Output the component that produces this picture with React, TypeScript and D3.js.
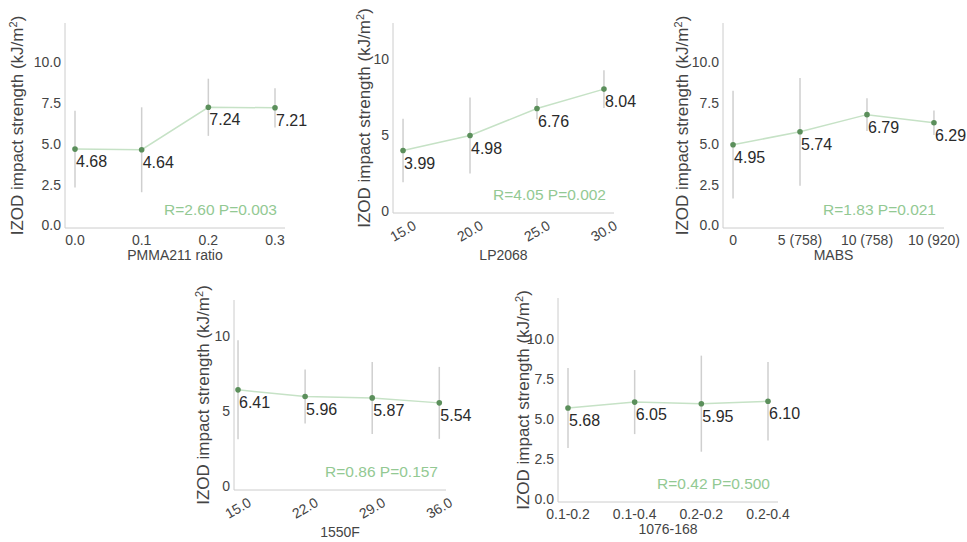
import React from 'react';
import * as d3 from 'd3';

// values
const pmmaCats = ['0.0', '0.1', '0.2', '0.3'];
const pmmaMeans = [4.68, 4.64, 7.24, 7.21];
const pmmaErr = [2.35, 2.6, 1.75, 1.2];

const lpCats = ['15.0', '20.0', '25.0', '30.0'];
const lpMeans = [3.99, 4.98, 6.76, 8.04];
const lpErr = [2.1, 2.5, 0.7, 1.25];

const mabsCats = ['0', '5 (758)', '10 (758)', '10 (920)'];
const mabsMeans = [4.95, 5.74, 6.79, 6.29];
const mabsErr = [3.3, 3.3, 1.0, 0.75];

const f1550Cats = ['15.0', '22.0', '29.0', '36.0'];
const f1550Means = [6.41, 5.96, 5.87, 5.54];
const f1550Err = [3.3, 1.8, 2.4, 2.4];

const agentCats = ['0.1-0.2', '0.1-0.4', '0.2-0.2', '0.2-0.4'];
const agentMeans = [5.68, 6.05, 5.95, 6.1];
const agentErr = [2.5, 2.0, 3.0, 2.45];

const ticksFine = [0, 2.5, 5, 7.5, 10];
const ticksCoarse = [0, 5, 10];

const xTitles = ['PMMA211 ratio', 'LP2068', 'MABS', '1550F', '1076-168'];
const stats = ['R=2.60 P=0.003', 'R=4.05 P=0.002', 'R=1.83 P=0.021', 'R=0.86 P=0.157', 'R=0.42 P=0.500'];

const FONT = '"Liberation Sans", Arial, sans-serif';

type PanelProps = {
  cats: string[];
  means: number[];
  errs: number[];
  ticks: number[];
  tickFmt: (v: number) => string;
  xTitle: string;
  stat: string;
  xRange: [number, number];
  xDomain: [number, number];
  yRange: [number, number];
  yDomain: [number, number];
  yLabelX: number;
  rotate?: boolean;
};

const Panel = (p: PanelProps) => {
  const x = d3.scaleLinear().domain(p.xDomain).range(p.xRange);
  const y = d3.scaleLinear().domain(p.yDomain).range(p.yRange);
  const [left, right] = p.xRange;
  const [bottom, top] = p.yRange;
  const line = d3.line<number>()
    .x((_, i) => x(i))
    .y(d => y(d));
  const midY = (top + bottom) / 2;

  return (
    <g>
      {/* axes */}
      <line x1={left} x2={left} y1={top} y2={bottom} stroke="#cccccc" strokeWidth={1} />
      <line x1={left} x2={right} y1={bottom} y2={bottom} stroke="#cccccc" strokeWidth={1} />

      {p.ticks.map(t => (
        <text key={t} x={left - 4} y={y(t)} dy="0.35em" textAnchor="end"
              fontSize={14} fill="#444" fontFamily={FONT}>{p.tickFmt(t)}</text>
      ))}

      {p.cats.map((c, i) => p.rotate ? (
        <text key={c} transform={`translate(${x(i)},${bottom + 18}) rotate(-30)`}
              textAnchor="middle" dy="0.35em" fontSize={14} fill="#444" fontFamily={FONT}>{c}</text>
      ) : (
        <text key={c} x={x(i)} y={bottom + 17} textAnchor="middle"
              fontSize={14} fill="#444" fontFamily={FONT}>{c}</text>
      ))}

      <text x={(left + right) / 2} y={bottom + (p.rotate ? 47 : 32)} textAnchor="middle"
            fontSize={14} fill="#444" fontFamily={FONT}>{p.xTitle}</text>

      <text transform={`translate(${p.yLabelX},${midY}) rotate(-90)`} textAnchor="middle"
            dy="0.35em" fontSize={17} fill="#444" fontFamily={FONT}>
        IZOD impact strength (kJ/m<tspan baselineShift="super" fontSize={11}>2</tspan>)
      </text>

      {/* error bars */}
      {p.means.map((m, i) => (
        <line key={i} x1={x(i)} x2={x(i)} y1={y(m - p.errs[i])} y2={y(m + p.errs[i])}
              stroke="#cfcfcf" strokeWidth={1.5} />
      ))}

      <path d={line(p.means) || ''} fill="none" stroke="#c6e2c6" strokeWidth={1.5} />

      {p.means.map((m, i) => (
        <circle key={i} cx={x(i)} cy={y(m)} r={2.8} fill="#5b8f5b" />
      ))}

      {p.means.map((m, i) => (
        <text key={i} x={x(i) + 1} y={y(m) + 18} fontSize={16} fill="#2a2a2a"
              fontFamily={FONT}>{m.toFixed(2)}</text>
      ))}

      <text x={right - 8} y={bottom - 13} textAnchor="end" fontSize={15.5}
            fill="#93c993" fontFamily={FONT}>{p.stat}</text>
    </g>
  );
};

const fmt1 = (v: number) => v.toFixed(1);
const fmt0 = (v: number) => String(v);

export default function App() {
  return (
    <svg width={967} height={542} style={{ position: 'absolute', left: 0, top: 0, background: '#fff' }}>
      <Panel cats={pmmaCats} means={pmmaMeans} errs={pmmaErr} ticks={ticksFine} tickFmt={fmt1}
             xTitle={xTitles[0]} stat={stats[0]}
             xDomain={[-0.15, 3.15]} xRange={[65, 285]}
             yDomain={[-0.15, 12.4]} yRange={[228, 23]} yLabelX={17} />
      <Panel cats={lpCats} means={lpMeans} errs={lpErr} ticks={ticksCoarse} tickFmt={fmt0}
             xTitle={xTitles[1]} stat={stats[1]} rotate
             xDomain={[-0.15, 3.15]} xRange={[393, 614]}
             yDomain={[-0.13, 12.4]} yRange={[213, 23]} yLabelX={364} />
      <Panel cats={mabsCats} means={mabsMeans} errs={mabsErr} ticks={ticksFine} tickFmt={fmt1}
             xTitle={xTitles[2]} stat={stats[2]}
             xDomain={[-0.15, 3.15]} xRange={[723, 944]}
             yDomain={[-0.15, 12.4]} yRange={[228, 23]} yLabelX={682} />
      <Panel cats={f1550Cats} means={f1550Means} errs={f1550Err} ticks={ticksCoarse} tickFmt={fmt0}
             xTitle={xTitles[3]} stat={stats[3]} rotate
             xDomain={[-0.06, 3.1]} xRange={[234, 446]}
             yDomain={[-0.27, 12.4]} yRange={[490, 300]} yLabelX={203} />
      <Panel cats={agentCats} means={agentMeans} errs={agentErr} ticks={ticksFine} tickFmt={fmt1}
             xTitle={xTitles[4]} stat={stats[4]}
             xDomain={[-0.15, 3.15]} xRange={[558, 778]}
             yDomain={[-0.19, 12.55]} yRange={[502, 298]} yLabelX={523} />
    </svg>
  );
}
